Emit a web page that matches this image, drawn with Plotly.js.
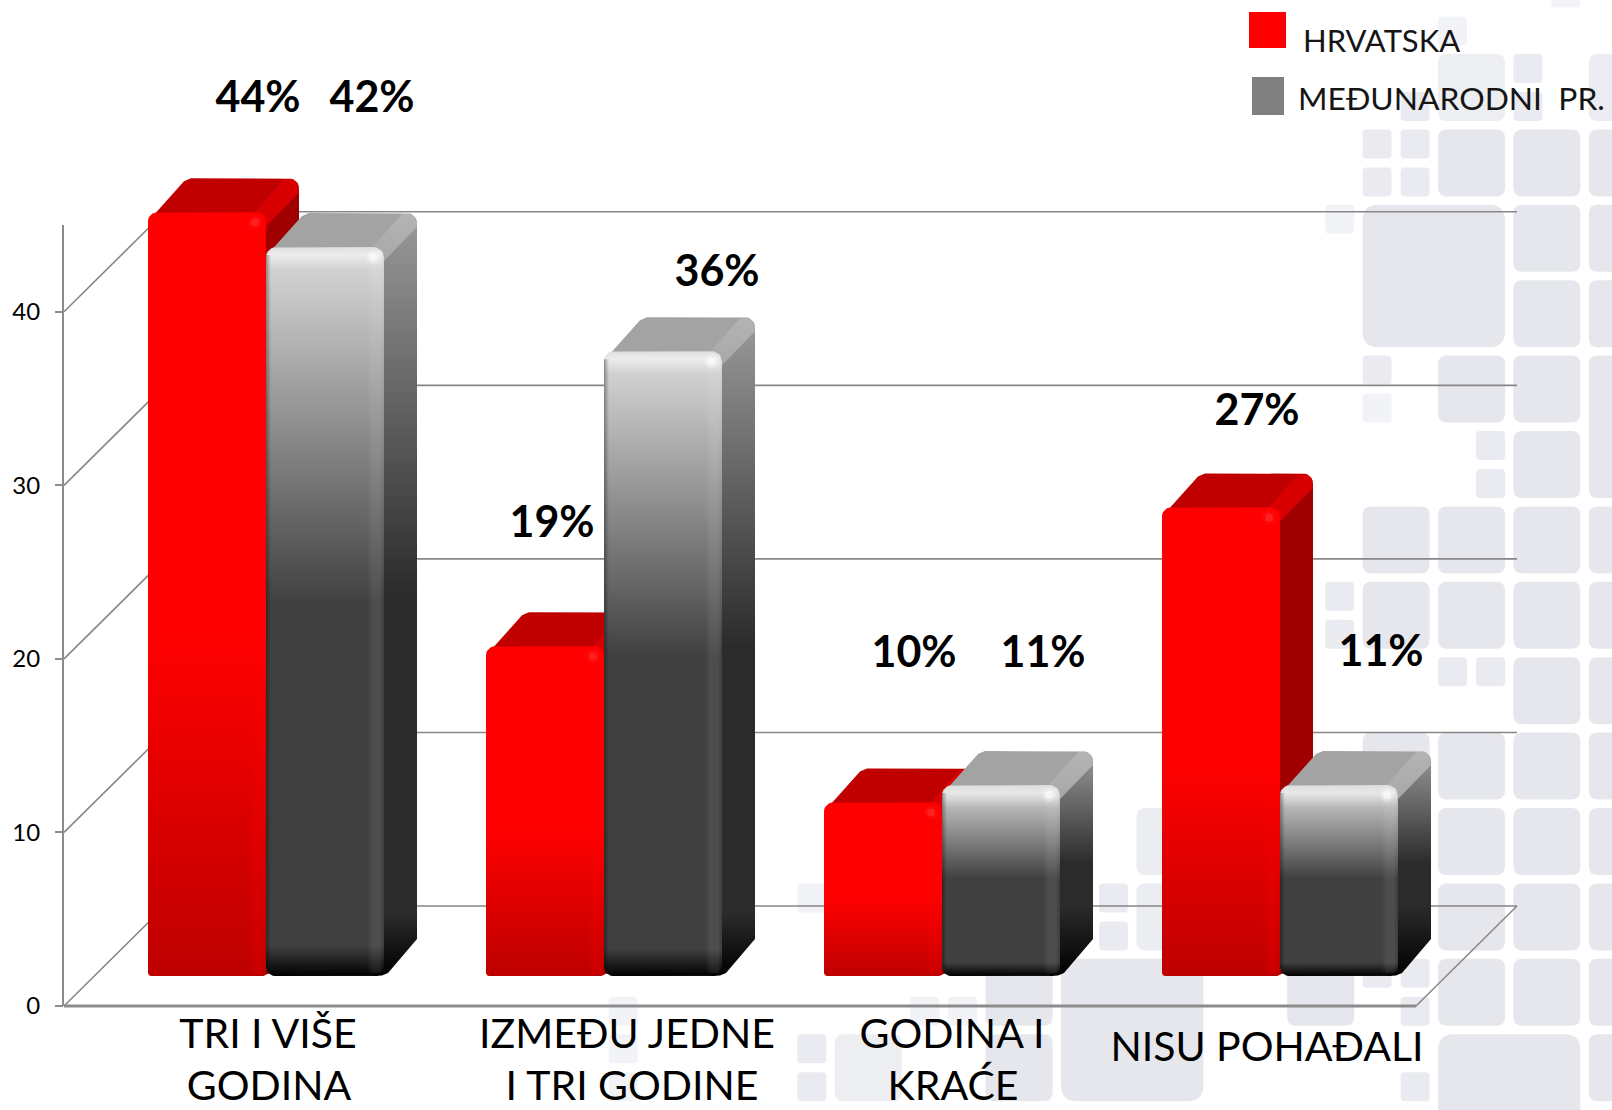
<!DOCTYPE html>
<html><head><meta charset="utf-8">
<script src="https://cdn.plot.ly/plotly-3.0.1.min.js"></script>
<style>html,body{margin:0;padding:0;background:#fff}#c{width:1612px;height:1110px}</style>
</head><body><div id="c"></div>
<script>
// ---------- data ----------
const hrvatska = [44, 19, 10, 27];
const medjunarodni = [42, 36, 11, 11];
const categoryLine1 = ['TRI I VIŠE', 'IZMEĐU JEDNE', 'GODINA I', 'NISU POHAĐALI'];
const categoryLine2 = ['GODINA', 'I TRI GODINE', 'KRAĆE', ''];
const yTicks = [0, 10, 20, 30, 40];
const seriesNames = ['HRVATSKA', 'MEĐUNARODNI  PR.'];

// ---------- placement of labels, relative to their bars (px) ----------
const hrLabelShift = [[51,-111],[7,-120],[31,-146],[36,-93]];
const medLabelShift = [[47,-146],[54,-76],[42,-129],[42,-130]];
const line1Pos = [[268,1038],[627,1038],[952,1038],[1267,1051]];
const line2Pos = [[269,1090],[632,1090],[953,1090],[0,0]];

// ---------- geometry ----------
const W=1612,H=1110, ML=64, MT=225, PW=1453, PH=781, CAT=338, YMAX=45;
const UY=PH/YMAX;
const ux=p=>p/CAT, uy=p=>p/UY;
const px2x=p=>(p-ML)/CAT, px2y=p=>(MT+PH-p)/UY;
const BAR=118, DX=33, DY=34, FLOORX=33, FLOORY=30, WALLX=101, WALLY=100;
const traces=[];

function arc(xs,ys,cx,cy,r,a0,a1){
  for(let k=0;k<=6;k++){const a=(a0+(a1-a0)*k/6)*Math.PI/180;
    xs.push(cx+ux(r*Math.cos(a)));ys.push(cy+uy(r*Math.sin(a)));}
}
function roundRect(L,R,B,T,rt,rb){
  const xs=[],ys=[];
  arc(xs,ys,L+ux(rb),B+uy(rb),rb,180,270);
  arc(xs,ys,R-ux(rb),B+uy(rb),rb,270,360);
  arc(xs,ys,R-ux(rt),T-uy(rt),rt,0,90);
  arc(xs,ys,L+ux(rt),T-uy(rt),rt,90,180);
  xs.push(xs[0]);ys.push(ys[0]);
  return [xs,ys];
}
function poly(xs,ys,fill){
  const t={type:'scatter',mode:'lines',x:xs,y:ys,fill:'toself',line:{width:0},
    hoverinfo:'skip',showlegend:false,cliponaxis:false};
  if(typeof fill==='string') t.fillcolor=fill;
  else {t.fillcolor='rgba(0,0,0,0)';t.fillgradient=fill;}
  traces.push(t);
}
const grad=(type,start,stop,colorscale)=>({type,start,stop,colorscale});

// walls and floor, built from tick values
yTicks.forEach((v,i)=>{
  const back=v+uy(WALLY), xEnd=ux(PW);
  traces.push({type:'scatter',mode:'lines',x:[0,ux(WALLX),xEnd],y:[v,back,back],
    line:{color:'#878787',width:1.6},hoverinfo:'skip',showlegend:false});
});
traces.push({type:'scatter',mode:'lines',x:[0,4,4+ux(WALLX)],y:[0,0,uy(WALLY)],
  line:{color:'#8a8a8a',width:1.6},hoverinfo:'skip',showlegend:false});
traces.push({type:'scatter',mode:'lines',x:[0,4],y:[0,0],
  line:{color:'#8c8c8c',width:3},hoverinfo:'skip',showlegend:false});
traces.push({type:'scatter',mode:'lines',x:[-ux(1),-ux(1)],y:[0,YMAX],
  line:{color:'#8c8c8c',width:2},hoverinfo:'skip',showlegend:false});

const base=uy(FLOORY);
const barW=ux(BAR);
const centre=i=>i+0.5+ux(FLOORX);

// real bars (inset: the shaded faces are laid over them)
[hrvatska,medjunarodni].forEach((vals,s)=>{
  traces.push({type:'bar',name:seriesNames[s],x:vals.map((v,i)=>centre(i)+(s?barW/2:-barW/2)),y:vals,
    base:vals.map(()=>base),width:vals.map(()=>barW-ux(20)),
    marker:{color:s?'#404040':'#ff0000',line:{width:0}},showlegend:false,
    hovertemplate:'%{y}%<extra>'+seriesNames[s]+'</extra>'});
});

function drawBar(i,s,v){
  const L=centre(i)+(s?0:-barW), R=L+barW, T=base+v, B=base;
  const dx=ux(DX), dy=uy(DY);
  const h=v*UY;
  // side face
  const sx=[R-ux(10),R-ux(1),R+dx,R+dx,R+ux(4),R-ux(2),R-ux(10)];
  const sy=[T-uy(4),T-uy(4),T+dy-uy(10),B+dy+uy(3),B+uy(3),B+uy(0.5),B];
  if(s===0) poly(sx,sy,'#a00000');
  else poly(sx,sy,grad('vertical',T+dy,B,[[0,'#9a9a9a'],[0.5,'#2b2b2b'],[Math.max(0.55,1-60/h),'#2b2b2b'],[1,'#000000']]));
  // top face
  const tx=[L+ux(2),L+dx+ux(3),L+dx+ux(10)],ty=[T-uy(7),T+dy-uy(3),T+dy];
  arc(tx,ty,R+dx-ux(10),T+dy-uy(10),10,90,0);
  tx.push(R+ux(2));ty.push(T-uy(4));
  poly(tx,ty,s?'#a3a3a3':'#c00000');
  // bevel between top and side
  const bx=[R-ux(14),R+dx-ux(15),R+dx-ux(7),R+dx-ux(2),R+dx,R];
  const by=[T-uy(3),T+dy-uy(1),T+dy-uy(1),T+dy-uy(4),T+dy-uy(14),T-uy(14)];
  if(s===0) poly(bx,by,'#d80000');
  else poly(bx,by,grad('vertical',T+dy,T-uy(14),[[0,'#b4b4b4'],[1,'#a8a8a8']]));
  // front face
  const [fx,fy]=roundRect(L,R,B,T,s?10:9,s?9:3);
  const fEnd=1-(8+0.03*h)/h;
  if(s===0) poly(fx,fy,grad('vertical',T,B,[[0,'#ff0000'],[0.55,'#ff0000'],[1,'#bd0000']]));
  else poly(fx,fy,grad('vertical',T,B,[[0,'#dcdcdc'],[0.49,'#404040'],[fEnd,'#404040'],[1,'#000000']]));
  // right vertical bevel
  const rL=R-ux(17),rR=R-ux(1);
  const [rx,ry]=roundRect(rL,rR,B+uy(3),T-uy(2),6,6);
  poly(rx,ry,s?grad('horizontal',rL,rR,[[0,'rgba(255,255,255,0)'],[0.35,'rgba(255,255,255,0.07)'],[0.8,'rgba(255,255,255,0.07)'],[1,'rgba(255,255,255,0)']])
             :grad('horizontal',rL,rR,[[0,'rgba(255,0,0,0)'],[0.5,'rgba(255,0,0,0.25)'],[1,'rgba(255,0,0,0.1)']]));
  // top bevel band (grey bars only)
  if(s){
    const [ax,ay]=roundRect(L+ux(1),R-ux(1),T-uy(22),T-uy(1),9,0);
    poly(ax,ay,grad('vertical',T-uy(1),T-uy(22),[[0,'rgba(255,255,255,0.15)'],[0.3,'rgba(255,255,255,0.5)'],[0.6,'rgba(255,255,255,0.3)'],[1,'rgba(255,255,255,0)']]));
    // left soft edge
    const lx=[L,L+ux(5),L+ux(5),L],ly=[B+uy(8),B+uy(8),T-uy(8),T-uy(8)];
    poly(lx,ly,grad('horizontal',L,L+ux(5),[[0,'rgba(0,0,0,0.35)'],[1,'rgba(0,0,0,0)']]));
  }
  // corner glint
  traces.push({type:'scatter',mode:'markers',x:[R-ux(11),R-ux(11)],y:[T-uy(10),T-uy(10)],
    marker:{size:[14,8],color:s?['rgba(255,255,255,0.35)','rgba(255,255,255,0.8)']:['rgba(255,70,70,0.15)','rgba(255,90,90,0.45)'],line:{width:0}},
    hoverinfo:'skip',showlegend:false});
}
hrvatska.forEach((v,i)=>{drawBar(i,0,v);drawBar(i,1,medjunarodni[i]);});

// value labels
const lblX=[],lblY=[],lblT=[];
[[hrvatska,hrLabelShift,0],[medjunarodni,medLabelShift,1]].forEach(([vals,shift,s])=>{
  vals.forEach((v,i)=>{
    lblX.push(centre(i)+(s?barW/2:-barW/2)+ux(shift[i][0]));
    lblY.push(base+v-uy(shift[i][1]));
    lblT.push(v+'%');
  });
});
traces.push({type:'scatter',mode:'text',x:lblX,y:lblY,text:lblT,textposition:'middle center',
  textfont:{family:'Lato',size:43,color:'#000',weight:700},hoverinfo:'skip',showlegend:false});

// category labels
const cx=[],cy=[],ct=[];
categoryLine1.forEach((t,i)=>{cx.push(px2x(line1Pos[i][0]));cy.push(px2y(line1Pos[i][1]));ct.push(t);});
categoryLine2.forEach((t,i)=>{if(t){cx.push(px2x(line2Pos[i][0]));cy.push(px2y(line2Pos[i][1]));ct.push(t);}});
traces.push({type:'scatter',mode:'text',x:cx,y:cy,text:ct,textposition:'middle center',
  textfont:{family:'Lato',size:41,color:'#000'},hoverinfo:'skip',showlegend:false});

// legend text
traces.push({type:'scatter',mode:'text',x:[px2x(1303),px2x(1298)],y:[px2y(44),px2y(102)],text:seriesNames,
  textposition:'middle right',textfont:{family:'Lato',size:[31,31.8],color:'#151515'},hoverinfo:'skip',showlegend:false});

// ---------- page decoration: pale tile pattern ----------
const GX=1438,GY=54,PITCH=75.4,SZ=67,QZ=29,QO=38;
const paperX=p=>p/W, paperY=p=>1-p/H;
const shapes=[];
function tile(x,y,w,h,r,op){
  const X=paperX,Y=paperY;
  const d=`M${X(x+r)},${Y(y)} L${X(x+w-r)},${Y(y)} Q${X(x+w)},${Y(y)} ${X(x+w)},${Y(y+r)} L${X(x+w)},${Y(y+h-r)} Q${X(x+w)},${Y(y+h)} ${X(x+w-r)},${Y(y+h)} L${X(x+r)},${Y(y+h)} Q${X(x)},${Y(y+h)} ${X(x)},${Y(y+h-r)} L${X(x)},${Y(y+r)} Q${X(x)},${Y(y)} ${X(x+r)},${Y(y)} Z`;
  shapes.push({type:'path',xref:'paper',yref:'paper',layer:'below',path:d,fillcolor:'#e6e7ed',opacity:op,line:{width:0}});
}
const cell=(c,r,cs,rs,op)=>tile(GX+c*PITCH,GY+r*PITCH,SZ+(cs-1)*PITCH,SZ+(rs-1)*PITCH,cs>1?16:9,op);
const quart=(c,r,qx,qy,op)=>tile(GX+c*PITCH+qx*QO,GY+r*PITCH+qy*QO,QZ,QZ,4,op);
const cellsList=[[0,1],[1,1],[2,1],[1,2],[2,2],[1,3],[2,3],[0,4],[1,4],[1,5],
 [-1,6],[0,6],[1,6],[2,6],[-1,7],[0,7],[1,7],[2,7],[1,8],[2,8],[-1,9],[0,9],[1,9],[2,9],
 [0,10],[1,10],[2,10],[0,11],[1,11],[2,11],[0,12],[1,12],[2,12],[-2,12],[2,13],[-6,12],[-6,13]];
cellsList.forEach(([c,r])=>cell(c,r,1,1,1));
cell(0,0,1,1,0.7);cell(2,0,1,1,0.8);
cell(-4,10,1,1,0.75);cell(-4,11,1,1,0.75);
cell(-1,2,2,2,1);cell(2,4,1,2,1);cell(0,13,2,2,1);cell(-5,12,2,2,1);cell(-8,13,1,1,0.7);
[[-1,1,0,0],[-1,1,1,0],[-1,1,0,1],[-1,1,1,1],[-1,0,1,1],[1,0,0,0],[1,0,0,1],[-1,4,0,0],[0,5,1,0],[0,5,1,1],
 [-2,7,1,0],[-2,7,1,1],[0,8,0,0],[0,8,1,0],[-1,12,0,0],[-1,12,1,0],[-1,12,1,1],[-1,13,1,1],
 [-5,11,1,0],[-5,11,1,1],[-9,13,1,0],[-9,13,1,1]].forEach(q=>quart(q[0],q[1],q[2],q[3],0.85));
[[0,-1,0,1],[1,-1,1,0],[-2,2,1,0],[-9,11,1,0],[-7,12,0,1],[-7,12,1,1],[-11,12,0,1],[-11,13,0,0],[-11,13,0,1],[-1,4,0,1]]
 .forEach(q=>quart(q[0],q[1],q[2],q[3],0.5));

// legend swatches
shapes.push({type:'rect',xref:'paper',yref:'paper',layer:'above',x0:paperX(1249),x1:paperX(1286),y0:paperY(12),y1:paperY(48),fillcolor:'#ff0000',line:{width:0}});
shapes.push({type:'rect',xref:'paper',yref:'paper',layer:'above',x0:paperX(1252),x1:paperX(1284),y0:paperY(77),y1:paperY(115),fillcolor:'#808080',line:{width:0}});

const layout={
  width:W,height:H,margin:{l:0,r:0,t:0,b:0,pad:0},autosize:false,
  paper_bgcolor:'#fff',plot_bgcolor:'rgba(0,0,0,0)',showlegend:false,barmode:'overlay',
  hovermode:'closest',shapes,
  xaxis:{range:[-ML/CAT,(W-ML)/CAT],visible:false,fixedrange:true},
  yaxis:{range:[(MT+PH-H)/UY,(MT+PH)/UY],anchor:'free',position:(ML-1)/W,tickvals:yTicks,ticktext:yTicks.map(String),showgrid:false,zeroline:false,
    showline:false,ticks:'outside',ticklen:8,tickwidth:2,tickcolor:'#8c8c8c',
    tickfont:{family:'Lato',size:24,color:'#000'},ticklabelstandoff:10,fixedrange:true}
};
Plotly.newPlot('c',traces,layout,{displayModeBar:false,responsive:false});
</script></body></html>
